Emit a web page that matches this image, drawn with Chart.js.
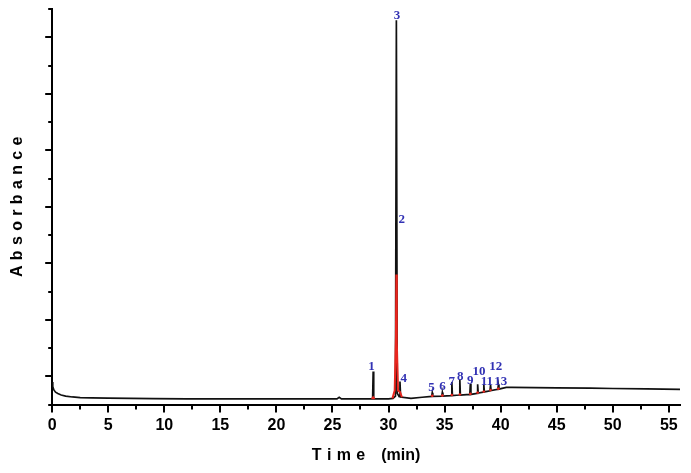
<!DOCTYPE html>
<html>
<head>
<meta charset="utf-8">
<title>Chromatogram</title>
<script src="https://cdn.jsdelivr.net/npm/chart.js@4/dist/chart.umd.min.js"></script>
<style>
    html, body { margin: 0; padding: 0; background: #fff; }
    #wrap { width: 691px; height: 473px; }
</style>
</head>
<body>
<div id="wrap"><canvas id="chromChart" width="691" height="473"></canvas></div>
<script>
// Main trace (black), retention time in min / absorbance (arb. units)
const timeBlack = [0, 0.05, 0.15, 0.3, 0.5, 0.8, 1.2, 1.8, 2.5, 3.5, 5, 7, 9, 12, 15, 18, 21, 24,
    25.4, 25.6, 25.8, 27, 28.58, 28.63, 28.68, 30.0, 30.4, 30.62, 30.7, 30.78, 30.95, 31.02, 31.08,
    32, 33, 33.85, 33.9, 33.95, 34.75, 34.8, 34.85, 35.6, 35.65, 35.7, 36.31, 36.36, 36.41,
    37.25, 37.3, 37.35, 37.9, 37.95, 38.0, 38.45, 38.5, 38.55, 39.05, 39.1, 39.15, 39.75, 39.8, 39.85,
    40.5, 41, 43, 45, 48, 50, 53, 56];
const absBlack = [0.8, 0.64, 0.52, 0.44, 0.39, 0.34, 0.3, 0.27, 0.25, 0.24, 0.23, 0.22, 0.21, 0.2, 0.2, 0.2, 0.2, 0.2,
    0.2, 0.26, 0.2, 0.2, 0.2, 1.17, 0.2, 0.2, 0.22, 0.3, 13.6, 0.4, 0.28, 0.82, 0.27,
    0.22, 0.26, 0.29, 0.42, 0.29, 0.3, 0.43, 0.3, 0.32, 0.8, 0.32, 0.34, 0.9, 0.34,
    0.36, 0.74, 0.36, 0.4, 0.72, 0.41, 0.44, 0.72, 0.45, 0.49, 0.7, 0.5, 0.54, 0.7, 0.55,
    0.61, 0.61, 0.6, 0.59, 0.58, 0.57, 0.56, 0.54];

// Overlay trace (red), gaps where it is hidden under the black trace
const timeRed = [28.5, 28.63, 28.76, 29.0,
    30.35, 30.55, 30.66, 30.7, 30.74, 30.85, 31.02, 31.2, 31.3,
    33.8, 33.9, 34.0, 34.2,
    34.7, 34.8, 34.9, 35.1,
    35.55, 35.65, 35.75, 36.0,
    36.26, 36.36, 36.46, 36.8,
    37.2, 37.3, 37.4, 37.6,
    37.85, 37.95, 38.05, 38.2,
    38.4, 38.5, 38.6, 38.8,
    39.0, 39.1, 39.2, 39.4,
    39.7, 39.8, 39.9, 40.2];
const absRed = [0.2, 0.26, 0.2, null,
    0.22, 0.5, 2.4, 4.6, 2.2, 0.5, 0.45, 0.26, null,
    0.29, 0.32, 0.29, null,
    0.3, 0.33, 0.3, null,
    0.32, 0.35, 0.32, null,
    0.34, 0.37, 0.34, null,
    0.36, 0.39, 0.36, null,
    0.4, 0.43, 0.41, null,
    0.44, 0.47, 0.45, null,
    0.49, 0.52, 0.5, null,
    0.54, 0.57, 0.55, null];

// Peak numbers
const peakLabels = ['1', '2', '3', '4', '5', '6', '7', '8', '9', '10', '11', '12', '13'];
const labelTime = [28.49, 31.19, 30.75, 31.35, 33.84, 34.82, 35.65, 36.39, 37.28, 38.08, 38.77, 39.57, 40.02];
const labelAbs = [1.35, 6.54, 13.78, 0.92, 0.6, 0.65, 0.82, 0.98, 0.86, 1.18, 0.82, 1.35, 0.82];

// Axis ticks
const xTickLabels = [0, 5, 10, 15, 20, 25, 30, 35, 40, 45, 50, 55];
const xTickMarks = [0, 2.5, 5, 7.5, 10, 12.5, 15, 17.5, 20, 22.5, 25, 27.5, 30, 32.5, 35, 37.5, 40, 42.5, 45, 47.5, 50, 52.5, 55];
const yTickMarks = [0, 1, 2, 3, 4, 5, 6, 7, 8, 9, 10, 11, 12, 13, 14];

const toPoints = (xs, ys) => xs.map((t, i) => ({ x: t, y: ys[i] }));

// draws the axis tick marks (long/short) and the peak numbers
const decorations = {
    id: 'decorations',
    afterDraw(chart) {
        const { ctx } = chart;
        const x = chart.scales.x;
        const y = chart.scales.y;
        ctx.save();
        ctx.strokeStyle = '#000';
        ctx.lineWidth = 2;
        ctx.beginPath();
        xTickMarks.forEach(v => {
            const px = Math.round(x.getPixelForValue(v));
            const len = v % 5 === 0 ? 8 : 5;
            ctx.moveTo(px, y.bottom);
            ctx.lineTo(px, y.bottom + len);
        });
        yTickMarks.forEach(v => {
            const py = Math.round(y.getPixelForValue(v));
            const len = v % 2 === 1 ? 7 : 4;
            ctx.moveTo(x.left, py);
            ctx.lineTo(x.left - len, py);
        });
        ctx.stroke();

        ctx.fillStyle = '#3232b4';
        ctx.font = 'bold 13px "Liberation Serif", "DejaVu Serif", serif';
        ctx.textAlign = 'center';
        ctx.textBaseline = 'middle';
        peakLabels.forEach((txt, i) => {
            ctx.fillText(txt, x.getPixelForValue(labelTime[i]), y.getPixelForValue(labelAbs[i]));
        });
        ctx.restore();
    }
};

const axisFont = { family: '"Liberation Sans", Arial, sans-serif', size: 16, weight: 'bold' };

new Chart(document.getElementById('chromChart'), {
    type: 'line',
    data: {
        datasets: [{
            label: 'red',
            data: toPoints(timeRed, absRed),
            borderColor: '#e8261e',
            borderWidth: 2,
            pointRadius: 0,
            spanGaps: false,
            tension: 0,
            order: 0
        }, {
            label: 'black',
            data: toPoints(timeBlack, absBlack),
            borderColor: '#111',
            borderWidth: 1.7,
            pointRadius: 0,
            tension: 0,
            order: 1
        }]
    },
    options: {
        responsive: false,
        animation: false,
        devicePixelRatio: 1,
        layout: { padding: { left: 0, right: 11, top: 9, bottom: 0 } },
        plugins: {
            legend: { display: false },
            tooltip: { enabled: false }
        },
        scales: {
            x: {
                type: 'linear',
                min: 0,
                max: 56,
                afterBuildTicks: s => { s.ticks = xTickLabels.map(v => ({ value: v })); },
                grid: { drawOnChartArea: false, drawTicks: false },
                border: { color: '#000', width: 2 },
                ticks: { color: '#000', font: axisFont, padding: 11, maxRotation: 0 },
                title: {
                    display: true,
                    text: 'T\u2004i\u2004m\u2004e\u2003(min)',
                    color: '#000',
                    font: axisFont,
                    padding: { top: 0, bottom: 8 }
                }
            },
            y: {
                min: 0,
                max: 14,
                ticks: { display: false, stepSize: 1 },
                grid: { drawOnChartArea: false, drawTicks: false },
                border: { color: '#000', width: 2 },
                title: {
                    display: true,
                    text: 'A\u2004b\u2004s\u2004o\u2004r\u2004b\u2004a\u2004n\u2004c\u2004e',
                    color: '#000',
                    font: axisFont,
                    padding: { top: 8, bottom: 25 }
                }
            }
        }
    },
    plugins: [decorations]
});
</script>
</body>
</html>
